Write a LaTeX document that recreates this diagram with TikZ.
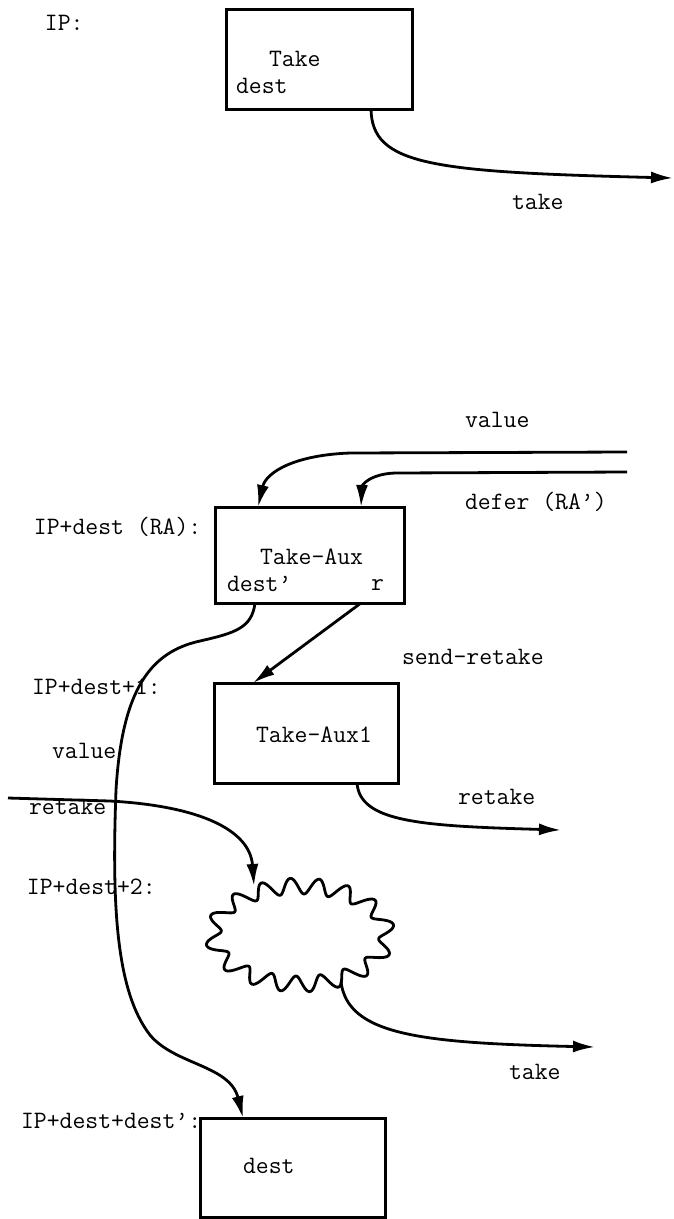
\documentclass[tikz,border=0pt]{standalone}
\usepackage{fontspec}
\usetikzlibrary{arrows.meta,calc}
\begin{document}
\begin{tikzpicture}[x=1pt,y=-1pt,
  every node/.style={inner sep=0pt,outer sep=0pt},
  lbl/.style={anchor=base west,font=\ttfamily\fontsize{25}{30}\selectfont},
  blk/.style={draw,line width=3pt,rectangle},
  conn/.style={line width=2.8pt},
  arr/.style={conn,-{Latex[length=22pt,width=12pt]}}]
\useasboundingbox (0,0) rectangle (674,1219);

% boxes
\node[blk,minimum width=186pt,minimum height=100pt] (take) at (319,59) {};
\node[blk,minimum width=189pt,minimum height=96pt] (aux) at (309.5,555) {};
\node[blk,minimum width=184pt,minimum height=100pt] (aux1) at (306,733) {};
\node[blk,minimum width=185pt,minimum height=99pt] (dbox) at (292.5,1167.5) {};

% cloud
\node[minimum width=190pt,minimum height=114pt] (cloud) at (300,935) {};
\draw[conn,line join=round] plot[domain=0:360,samples=360,smooth,variable=\t]
  ({300+(87+8*cos(16*(\t-8.3*sin(2*\t)-15)))*cos(\t)},
   {935+(49+8*cos(16*(\t-8.3*sin(2*\t)-15)))*sin(\t)}) -- cycle;

% labels
\node[lbl] (lip) at (45,30.5) {IP:};
\node[lbl] (ltake) at (269,66) {Take};
\node[lbl] (ldest) at (236,93.5) {dest};
\node[lbl] (ltk1) at (512,209.5) {take};
\node[lbl] (lval1) at (465,427.5) {value};
\node[lbl] (ldefer) at (465,509.5) {defer (RA’)};
\node[lbl] (lipra) at (34,534) {IP+dest (RA):};
\node[lbl] (laux) at (260,564) {Take-Aux};
\node[lbl] (ldp) at (227,591.5) {dest’};
\node[lbl] (lr) at (371,590.5) {r};
\node[lbl] (lsend) at (402,664.5) {send-retake};
\node[lbl] (lip1) at (32,694.5) {IP+dest+1:};
\node[lbl] (laux1) at (256,742) {Take-Aux1};
\node[lbl] (lval2) at (52,758.5) {value};
\node[lbl] (lret1) at (29,814.5) {retake};
\node[lbl] (lret2) at (458,804.5) {retake};
\node[lbl] (lip2) at (27,894) {IP+dest+2:};
\node[lbl] (ltk2) at (509,1079.5) {take};
\node[lbl] (lipd) at (21,1128.5) {IP+dest+dest’:};
\node[lbl] (ldest2) at (243,1173.5) {dest};

% free ends
\coordinate (t1) at (673,178);
\coordinate (v0) at (627,452);
\coordinate (d0) at (627,472);
\coordinate (r0) at (8,798);
\coordinate (r1) at (561,830);
\coordinate (cin) at (254,886);
\coordinate (cout) at (341,982);
\coordinate (k1) at (595,1047);

% connectors
\draw[arr] ([xshift=52pt]take.south) .. controls (372,165) and (430,172) .. (t1);
\draw[arr] (v0) -- (350,453) .. controls (295,455) and (266,472) .. ([xshift=-51.5pt]aux.north);
\draw[arr] (d0) -- (395,473) .. controls (370,474) and (362,485) .. ([xshift=51.5pt]aux.north);
\draw[arr] ([xshift=51.5pt]aux.south) -- ([xshift=-53pt]aux1.north);
\draw[arr] ([xshift=-54.5pt]aux.south) .. controls (252,628) and (235,633) .. (200,641)
   .. controls (150,652) and (122,690) .. (116,790)
   .. controls (112,900) and (115,990) .. (150,1035)
   .. controls (175,1065) and (230,1065) .. ([xshift=-49.5pt]dbox.north);
\draw[arr] (r0) -- (110,801) .. controls (200,806) and (250,830) .. (cin);
\draw[arr] ([xshift=51pt]aux1.south) .. controls (360,822) and (420,826) .. (r1);
\draw[arr] (cout) .. controls (348,1035) and (420,1043) .. (k1);
\end{tikzpicture}
\end{document}
